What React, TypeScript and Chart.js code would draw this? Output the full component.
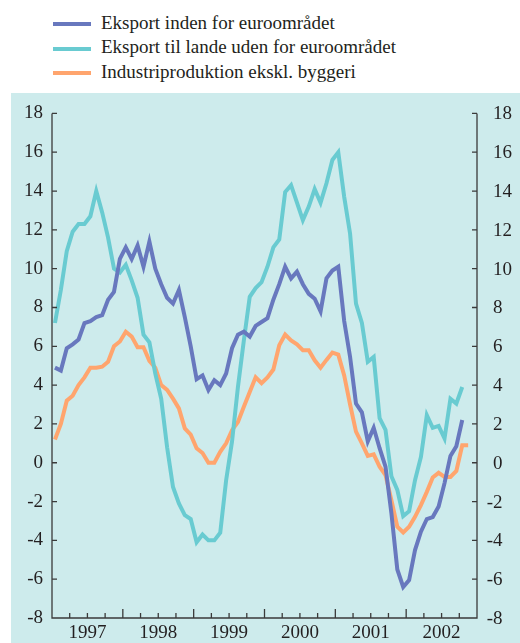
import { useEffect, useRef } from "react";
import { Chart, registerables } from "chart.js";

Chart.register(...registerables);

// ---- data (monthly, Jan 1997 onwards) ----
const startYear = 1997;
const yearLabels = ["1997", "1998", "1999", "2000", "2001", "2002"];
const seriesNames = [
  "Eksport inden for euroområdet",
  "Eksport til lande uden for euroområdet",
  "Industriproduktion ekskl. byggeri",
];
const seriesColors = ["#6878BE", "#69CBD1", "#FFA56E"];

const exportInside = [
  4.9, 4.75, 5.9, 6.1, 6.35, 7.2, 7.3, 7.5, 7.6, 8.4, 8.8, 10.5,
  11.1, 10.5, 11.2, 10.1, 11.4, 10.0, 9.2, 8.5, 8.2, 8.9, 7.5, 6.0,
  4.3, 4.5, 3.75, 4.25, 4.0, 4.6, 5.9, 6.6, 6.75, 6.5, 7.05, 7.25,
  7.45, 8.4, 9.2, 10.1, 9.5, 9.85, 9.2, 8.7, 8.45, 7.8, 9.5, 9.9,
  10.1, 7.3, 5.45, 3.05, 2.6, 1.1, 1.8, 0.75, -0.2, -2.6, -5.5, -6.4,
  -6.05, -4.5, -3.55, -2.9, -2.8, -2.25, -1.05, 0.35, 0.85, 2.2,
];
const exportOutside = [
  7.2, 8.9, 10.9, 11.9, 12.3, 12.3, 12.7, 14.0, 12.9, 11.6, 10.0, 9.8,
  10.2, 9.4, 8.5, 6.6, 6.2, 4.6, 3.3, 0.8, -1.25, -2.1, -2.7, -2.9,
  -4.1, -3.7, -4.0, -4.0, -3.6, -0.9, 1.1, 3.9, 6.3, 8.55, 9.0, 9.3,
  10.1, 11.1, 11.5, 13.95, 14.3, 13.4, 12.5, 13.2, 14.1, 13.4, 14.4, 15.6,
  16.0, 13.7, 11.8, 8.2, 7.2, 5.2, 5.45, 2.3, 1.7, -0.7, -1.4, -2.75,
  -2.5, -0.9, 0.3, 2.45, 1.8, 1.9, 1.25, 3.3, 3.05, 3.9,
];
const industry = [
  1.2, 2.0, 3.2, 3.45, 4.0, 4.4, 4.9, 4.9, 4.95, 5.2, 6.0, 6.25,
  6.75, 6.5, 5.95, 5.95, 5.25, 4.9, 4.0, 3.75, 3.3, 2.8, 1.77, 1.45,
  0.75, 0.5, 0.0, 0.0, 0.56, 1.0, 1.68, 2.1, 2.88, 3.65, 4.4, 4.1,
  4.4, 4.8, 6.05, 6.6, 6.3, 6.1, 5.8, 5.8, 5.28, 4.9, 5.3, 5.68,
  5.57, 4.5, 3.0, 1.6, 1.0, 0.35, 0.43, -0.2, -0.64, -1.93, -3.3, -3.59,
  -3.3, -2.79, -2.18, -1.5, -0.76, -0.52, -0.73, -0.73, -0.42, 0.9, 0.9,
];

const yMin = -8;
const yMax = 18;
const yStep = 2;
const monthsOnAxis = 72;

const FONT = "'Liberation Serif', 'Times New Roman', serif";
const TEXT = "#231F20";
const AXIS = "#3A3A3A";

const toPoints = (arr: number[]) => arr.map((v, i) => ({ x: i + 0.5, y: v }));

const decor = {
  id: "decor",
  afterDraw(chart: any) {
    const { ctx, chartArea: a, scales } = chart;
    const x = scales.x;
    const y = scales.y;
    ctx.save();
    ctx.strokeStyle = AXIS;
    ctx.lineWidth = 1.3;
    ctx.beginPath();
    ctx.moveTo(a.left, a.top);
    ctx.lineTo(a.left, a.bottom);
    ctx.lineTo(a.right, a.bottom);
    ctx.lineTo(a.right, a.top);
    for (let v = yMin; v <= yMax; v += yStep) {
      const py = y.getPixelForValue(v);
      ctx.moveTo(a.left, py);
      ctx.lineTo(a.left + 5, py);
      ctx.moveTo(a.right - 5, py);
      ctx.lineTo(a.right, py);
    }
    for (let m = 0; m <= monthsOnAxis; m += 3) {
      const px = x.getPixelForValue(m);
      const len = m % 12 === 0 ? 9 : 5;
      ctx.moveTo(px, a.bottom);
      ctx.lineTo(px, a.bottom - len);
    }
    ctx.stroke();
    // right-hand tick labels (digits aligned, minus sign hanging)
    ctx.fillStyle = TEXT;
    ctx.font = `19px ${FONT}`;
    ctx.textAlign = "left";
    ctx.textBaseline = "middle";
    const minusW = ctx.measureText("-").width;
    for (let v = yMin; v <= yMax; v += yStep) {
      const py = y.getPixelForValue(v);
      let x0 = a.right + 16;
      if (v < 0) x0 -= minusW;
      ctx.fillText(String(v), x0, py + 1);
    }
    ctx.restore();
  },
};

export default function App() {
  const ref = useRef<HTMLCanvasElement | null>(null);

  useEffect(() => {
    if (!ref.current) return;
    const chart = new Chart(ref.current, {
      type: "line",
      data: {
        datasets: [
          { label: seriesNames[0], data: toPoints(exportInside), borderColor: seriesColors[0] },
          { label: seriesNames[1], data: toPoints(exportOutside), borderColor: seriesColors[1] },
          { label: seriesNames[2], data: toPoints(industry), borderColor: seriesColors[2] },
        ].map((d) => ({
          ...d,
          borderWidth: 4,
          pointRadius: 0,
          tension: 0,
          fill: false,
          borderJoinStyle: "miter" as const,
        })),
      },
      options: {
        animation: false,
        responsive: false,
        maintainAspectRatio: false,
        layout: { padding: { top: 20, left: 0, right: 0, bottom: 0 } },
        plugins: { legend: { display: false }, tooltip: { enabled: false } },
        scales: {
          x: {
            type: "linear",
            min: 0,
            max: monthsOnAxis,
            grid: { display: false, drawTicks: false },
            border: { display: false },
            ticks: {
              stepSize: 3,
              autoSkip: false,
              maxRotation: 0,
              padding: 4,
              color: TEXT,
              font: { family: FONT, size: 19 },
              callback: (v: any) => {
                const n = Number(v);
                if (n % 12 === 6) return yearLabels[(n - 6) / 12] ?? String(startYear + (n - 6) / 12);
                return "";
              },
            },
            afterFit: (s: any) => {
              s.height = 25;
            },
          },
          y: {
            position: "left",
            min: yMin,
            max: yMax,
            grid: { display: false, drawTicks: false },
            border: { display: false },
            ticks: {
              stepSize: yStep,
              padding: 9,
              color: TEXT,
              font: { family: FONT, size: 19 },
            },
            afterFit: (s: any) => {
              s.width = 41;
            },
          },
          y2: {
            position: "right",
            min: yMin,
            max: yMax,
            grid: { display: false, drawTicks: false },
            border: { display: false },
            ticks: { display: false, stepSize: yStep },
            afterFit: (s: any) => {
              s.width = 43;
            },
          },
        },
      },
      plugins: [decor],
    });
    return () => chart.destroy();
  }, []);

  const rowTops = [12.5, 37, 61.5];

  return (
    <div style={{ position: "absolute", left: 0, top: 0, width: 520, height: 643, background: "#fff", overflow: "hidden" }}>
      {seriesNames.map((name, i) => (
        <div key={name}>
          <div
            style={{
              position: "absolute",
              left: 53,
              top: rowTops[i] + 9.5,
              width: 38,
              height: 4,
              background: seriesColors[i],
            }}
          />
          <div
            style={{
              position: "absolute",
              left: 101,
              top: rowTops[i],
              fontFamily: FONT,
              fontSize: 19,
              lineHeight: "19px",
              color: TEXT,
              whiteSpace: "nowrap",
            }}
          >
            {name}
          </div>
        </div>
      ))}
      <div style={{ position: "absolute", left: 11, top: 93, width: 509, height: 550, background: "#CDEBEC" }}>
        <canvas ref={ref} width={509} height={550} style={{ display: "block" }} />
      </div>
    </div>
  );
}
